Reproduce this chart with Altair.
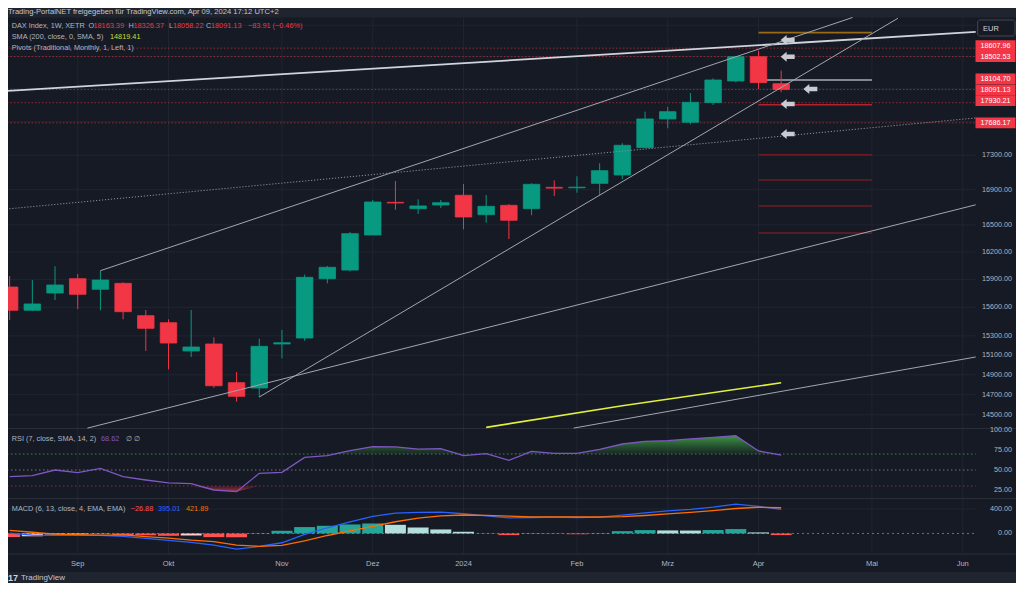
import altair as alt
import pandas as pd

# ------------------------------------------------------------------ data
weeks = pd.date_range("2023-08-14", periods=35, freq="7D")
opens = [15817, 15569, 15753, 15907, 15793, 15857, 15512, 15438, 15144, 15216,
         14821, 14767, 15216, 15278, 15907, 16001, 16387, 16755, 16683, 16725,
         16836, 16615, 16721, 16683, 16927, 16922, 16973, 17070, 17390, 17733,
         17693, 17932, 18197, 18500, 18163.39]
highs = [15936, 15893, 16042, 15958, 15994, 15868, 15572, 15474, 15572, 15285,
         14929, 15271, 15362, 15951, 16045, 16420, 16782, 17000, 16790, 16782,
         16966, 16839, 16735, 16973, 17008, 17055, 17206, 17442, 17821, 17881,
         18049, 18230, 18510, 18576, 18326.37]
lows = [15467, 15561, 15678, 15582, 15569, 15474, 15144, 14956, 15082, 14770,
        14630, 14677, 15069, 15250, 15857, 15985, 16387, 16671, 16623, 16691,
        16451, 16525, 16342, 16608, 16828, 16865, 16839, 17020, 17390, 17621,
        17669, 17902, 18180, 18098, 18058.22]
closes = [15569, 15636, 15839, 15739, 15893, 15554, 15379, 15226, 15185, 14790,
          14684, 15192, 15229, 15922, 16031, 16402, 16759, 16748, 16714, 16751,
          16589, 16710, 16552, 16962, 16918, 16929, 17120, 17418, 17733, 17821,
          17935, 18209, 18500, 18176, 18091.13]

rsi = [41.6, 42.9, 50.0, 46.7, 52.0, 41.6, 37.5, 34.0, 32.9, 25.0,
       22.9, 45.8, 47.0, 65.8, 67.9, 74.2, 79.2, 78.8, 76.2, 76.7,
       67.9, 70.4, 62.0, 73.3, 70.8, 70.8, 75.8, 82.5, 85.8, 86.7,
       88.8, 90.8, 92.9, 73.8, 68.62]
macd = [6, -27, -32, -32, -32, -49, -81, -114, -147, -191,
        -256, -213, -152, -16, 93, 192, 279, 334, 345, 350,
        323, 290, 257, 262, 268, 262, 268, 301, 339, 372,
        394, 432, 481, 443, 395.01]
signal = [50, 20, -12, -20, -27, -24, -50, -76, -110, -135,
          -190, -210, -196, -121, -33, 44, 115, 192, 250, 290,
          303, 296, 285, 270, 272, 270, 270, 275, 295, 322,
          346, 376, 409, 430, 421.89]
hist = [-59, -44, -16, -11, -5, -27, -30, -38, -33, -60,
        -62, -3, 44, 105, 126, 148, 164, 142, 98, 66,
        28, -4, -27, -3, -5, -12, -3, 38, 55, 50,
        48, 56, 72, 17, -26.88]

month_dates = ["2023-09-04", "2023-10-02", "2023-11-06", "2023-12-04", "2024-01-01",
               "2024-02-05", "2024-03-04", "2024-04-01", "2024-05-06", "2024-06-03"]
month_labels = ["Sep", "Okt", "Nov", "Dez", "2024", "Feb", "Mrz", "Apr", "Mai", "Jun"]

price_ticks = [14500, 14700, 14900, 15100, 15300, 15600, 15900, 16200, 16500, 16900, 17300]
grid_prices = price_ticks + [17700, 18100, 18500, 18900]
price_lines = [18607.96, 18502.53, 18091.13, 17930.21, 17686.17]
label_prices = [18607.96, 18502.53, 18104.70, 18091.13, 17930.21, 17686.17]

pivot_names = ["R1", "P", "S1", "S2", "S3", "S4", "S5"]
pivot_levels = [18805, 18209, 17906, 17307, 17012, 16714, 16409]
pivot_start, pivot_end = "2024-04-01", "2024-05-06"

trend_names = ["L1", "L2", "L3", "L4", "L5", "L6"]
trend_start_dates = ["2023-08-13", "2023-09-11", "2023-10-30", "2023-09-07", "2023-08-13", "2024-02-04"]
trend_start_prices = [18073, 15994, 14677, 14370, 16679, 14370]
trend_end_dates = ["2024-06-07", "2024-04-30", "2024-05-14", "2024-06-07", "2024-06-07", "2024-06-07"]
trend_end_prices = [18814, 19000, 18990, 16727, 17745, 15082]

sma_dates = ["2024-01-08", "2024-02-19", "2024-04-08"]
sma_values = [14377, 14590, 14819.41]

arrow_dates = ["2024-04-10", "2024-04-10", "2024-04-17", "2024-04-10", "2024-04-10"]
arrow_prices = [18712, 18500, 18097, 17914, 17552]

rsi_bands = [70, 50, 30]
rsi_ticks = [100, 75, 50, 25]
macd_ticks = [400, 0]

# ------------------------------------------------------------------ style
FONT = "Liberation Sans"
FRAME = "#20242f"
BG = "#161a25"
GRID = "#212532"
SEP = "#2a2e39"
TXT = "#b2b5be"
UP = "#089981"
DN = "#f23645"
LINE_GRAY = "#a3a6af"

X_SCALE = alt.Scale(domain=[alt.DateTime(year=2023, month=8, date=13),
                            alt.DateTime(year=2024, month=6, date=7)],
                    range=[-1.6, 967.7], padding=0, nice=False)


def xd(field="date"):
    return alt.X(f"{field}:T", scale=X_SCALE, axis=None)


def ym(field):
    return alt.Y(f"{field}:Q", axis=None,
                 scale=alt.Scale(type="log", domain=[14366, 19000], range=[420.5, 9.5],
                                 nice=False, zero=False, padding=0))


def yr(field):
    return alt.Y(f"{field}:Q", axis=None,
                 scale=alt.Scale(domain=[14, 102], range=[490.8, 420.4], nice=False, zero=False,
                                 padding=0))


def ymacd(field):
    return alt.Y(f"{field}:Q", axis=None,
                 scale=alt.Scale(domain=[-320, 570], range=[545.0, 490.7], nice=False, zero=False,
                                 padding=0))


def txt(s, x, y, color=TXT, size=7.3, align="left", weight="normal"):
    return alt.Chart(pd.DataFrame({"t": [s]})).mark_text(
        align=align, baseline="middle", fontSize=size, font=FONT, color=color, fontWeight=weight
    ).encode(x=alt.value(x), y=alt.value(y), text="t:N")


layers = []

# inner background
layers.append(alt.Chart(pd.DataFrame({"a": [0]})).mark_rect(color=BG).encode(
    x=alt.value(-1), x2=alt.value(1009), y=alt.value(9.5), y2=alt.value(564)))

# vertical grid lines (month starts)
df_months = pd.DataFrame({"date": pd.to_datetime(month_dates), "label": month_labels})
layers.append(alt.Chart(df_months).mark_rule(color=GRID, strokeWidth=1).encode(
    x=xd(), y=alt.value(9.5), y2=alt.value(546)))

# horizontal grid lines main pane
layers.append(alt.Chart(pd.DataFrame({"p": grid_prices})).mark_rule(color=GRID, strokeWidth=1).encode(
    y=ym("p"), x=alt.value(-1), x2=alt.value(967.7)))

# pane separators
for yy in (420.5, 490.5, 546):
    layers.append(alt.Chart(pd.DataFrame({"a": [0]})).mark_rule(color=SEP, strokeWidth=1).encode(
        x=alt.value(-1), x2=alt.value(1009), y=alt.value(yy)))

# pivot lines
df_piv = pd.DataFrame({"name": pivot_names, "p": pivot_levels,
                       "start": pd.to_datetime([pivot_start] * 7),
                       "end": pd.to_datetime([pivot_end] * 7)})
layers.append(alt.Chart(df_piv).mark_rule(strokeWidth=1.6).encode(
    x=xd("start"), x2=alt.X2("end:T"), y=ym("p"),
    color=alt.Color("name:N", legend=None,
                    scale=alt.Scale(domain=pivot_names,
                                    range=["#9a6a14", "#a9acb4", "#b0232e", "#6e1c24",
                                           "#6e1c24", "#6e1c24", "#6e1c24"]))))

# red dotted price lines
layers.append(alt.Chart(pd.DataFrame({"p": price_lines})).mark_rule(
    color="#8f2a34", strokeWidth=1, strokeDash=[1.5, 2]).encode(
    y=ym("p"), x=alt.value(-1), x2=alt.value(967.7)))

# SMA (yellow)
df_sma = pd.DataFrame({"date": pd.to_datetime(sma_dates), "v": sma_values})
layers.append(alt.Chart(df_sma).mark_line(color="#e2f03c", strokeWidth=1.6).encode(
    x=xd(), y=ym("v")))

# candles
df_c = pd.DataFrame({"date": weeks, "open": opens, "high": highs, "low": lows, "close": closes})
ccol = alt.condition("datum.close >= datum.open", alt.value(UP), alt.value(DN))
layers.append(alt.Chart(df_c).mark_rule(strokeWidth=1).encode(
    x=xd(), y=ym("low"), y2=alt.Y2("high:Q"), color=ccol))
layers.append(alt.Chart(df_c).mark_bar(size=16.5, strokeWidth=0.8).encode(
    x=xd(), y=ym("open"), y2=alt.Y2("close:Q"), color=ccol, stroke=ccol))

# trend lines
trend_styles = {
    "L1": dict(color="#d1d4dc", strokeWidth=1.8),
    "L2": dict(color=LINE_GRAY, strokeWidth=1),
    "L3": dict(color=LINE_GRAY, strokeWidth=1),
    "L4": dict(color=LINE_GRAY, strokeWidth=1),
    "L5": dict(color="#8d909a", strokeWidth=1, strokeDash=[1.2, 1.8]),
    "L6": dict(color=LINE_GRAY, strokeWidth=1),
}
for i, name in enumerate(trend_names):
    d = pd.DataFrame({"date": pd.to_datetime([trend_start_dates[i], trend_end_dates[i]]),
                      "p": [trend_start_prices[i], trend_end_prices[i]]})
    layers.append(alt.Chart(d).mark_line(**trend_styles[name]).encode(x=xd(), y=ym("p")))

# arrows
ARROW = "M-1,0L-0.15,-0.72L-0.15,-0.32L1,-0.32L1,0.32L-0.15,0.32L-0.15,0.72Z"
df_arrow = pd.DataFrame({"date": pd.to_datetime(arrow_dates), "p": arrow_prices})
layers.append(alt.Chart(df_arrow).mark_point(shape=ARROW, size=196, filled=True,
                                              color="#d1d4dc", opacity=0.95, strokeWidth=0).encode(
    x=xd(), y=ym("p")))

# price axis tick labels
layers.append(alt.Chart(pd.DataFrame({"p": price_ticks})).mark_text(
    align="right", baseline="middle", fontSize=7.2, font=FONT, color=TXT).encode(
    x=alt.value(1004), y=ym("p"), text=alt.Text("p:Q", format=".2f")))

# red price labels
BOX = "M-1,-0.27L1,-0.27L1,0.27L-1,0.27Z"
label_offsets = [-2.4, 0, -9.5, 0.4, -2, 0]
for p, off in zip(label_prices, label_offsets):
    d = pd.DataFrame({"p": [p]})
    layers.append(alt.Chart(d).mark_point(shape=BOX, size=1600, filled=True, color=DN,
                                          opacity=1, strokeWidth=0, yOffset=off).encode(
        x=alt.value(987.5), y=ym("p")))
    layers.append(alt.Chart(d).mark_text(align="center", baseline="middle", fontSize=7.2,
                                         font=FONT, color="#ffffff", dy=off).encode(
        x=alt.value(987.5), y=ym("p"), text=alt.Text("p:Q", format=".2f")))

# EUR box
layers.append(alt.Chart(pd.DataFrame({"a": [0]})).mark_rect(
    color=BG, stroke="#434651", strokeWidth=1, cornerRadius=2).encode(
    x=alt.value(969.7), x2=alt.value(1007), y=alt.value(12), y2=alt.value(28)))
layers.append(txt("EUR", 975, 20.5, color="#d1d4dc", size=7.5))

# ------------------------------------------------------------------ RSI pane
df_r = pd.DataFrame({"date": weeks, "rsi": rsi})
for b, col in zip(rsi_bands, ["#3a8a3f", "#6f727c", "#8f2a34"]):
    layers.append(alt.Chart(pd.DataFrame({"b": [b]})).mark_rule(
        color=col, strokeWidth=1, strokeDash=[1.5, 2.5]).encode(
        y=yr("b"), x=alt.value(-1), x2=alt.value(967.7)))

green_grad = alt.Gradient(gradient="linear",
                          stops=[alt.GradientStop(color="rgba(46,125,50,0.15)", offset=0),
                                 alt.GradientStop(color="rgba(67,160,71,0.95)", offset=1)],
                          x1=1, x2=1, y1=1, y2=0)
red_grad = alt.Gradient(gradient="linear",
                        stops=[alt.GradientStop(color="rgba(242,54,69,0.1)", offset=0),
                               alt.GradientStop(color="rgba(242,54,69,0.7)", offset=1)],
                        x1=1, x2=1, y1=0, y2=1)
layers.append(alt.Chart(df_r).transform_calculate(
    hi="max(datum.rsi, 70)", b70="70").mark_area(color=green_grad).encode(
    x=xd(), y=yr("hi"), y2=alt.Y2("b70:Q")))
layers.append(alt.Chart(df_r).transform_calculate(
    lo="min(datum.rsi, 30)", b30="30").mark_area(color=red_grad).encode(
    x=xd(), y=yr("lo"), y2=alt.Y2("b30:Q")))
layers.append(alt.Chart(df_r).mark_line(color="#7e57c2", strokeWidth=1.3).encode(
    x=xd(), y=yr("rsi")))
layers.append(alt.Chart(pd.DataFrame({"v": rsi_ticks})).mark_text(
    align="right", baseline="middle", fontSize=7.2, font=FONT, color=TXT).encode(
    x=alt.value(1004), y=yr("v"), text=alt.Text("v:Q", format=".2f")))

# ------------------------------------------------------------------ MACD pane
kinds = []
prev = None
for h in hist:
    rising = prev is not None and h > prev
    if h >= 0:
        kinds.append("pos_up" if rising else "pos_down")
    else:
        kinds.append("neg_up" if rising else "neg_down")
    prev = h
df_m = pd.DataFrame({"date": weeks, "macd": macd, "signal": signal, "hist": hist,
                     "kind": kinds, "zero": 0})
layers.append(alt.Chart(pd.DataFrame({"v": [400]})).mark_rule(color=GRID, strokeWidth=1).encode(
    y=ymacd("v"), x=alt.value(-1), x2=alt.value(967.7)))
layers.append(alt.Chart(pd.DataFrame({"v": [0]})).mark_rule(
    color="#6f727c", strokeWidth=1, strokeDash=[2, 3]).encode(
    y=ymacd("v"), x=alt.value(-1), x2=alt.value(967.7)))
layers.append(alt.Chart(df_m).mark_bar(size=21).encode(
    x=xd(), y=ymacd("hist"), y2=alt.Y2("zero:Q"),
    color=alt.Color("kind:N", legend=None,
                    scale=alt.Scale(domain=["pos_up", "pos_down", "neg_up", "neg_down"],
                                    range=["#26a69a", "#b2dfdb", "#ffcdd2", "#ff5252"]))))
layers.append(alt.Chart(df_m).mark_line(color="#2962ff", strokeWidth=1.3).encode(
    x=xd(), y=ymacd("macd")))
layers.append(alt.Chart(df_m).mark_line(color="#ff6d00", strokeWidth=1.3).encode(
    x=xd(), y=ymacd("signal")))
layers.append(alt.Chart(pd.DataFrame({"v": macd_ticks})).mark_text(
    align="right", baseline="middle", fontSize=7.2, font=FONT, color=TXT).encode(
    x=alt.value(1004), y=ymacd("v"), text=alt.Text("v:Q", format=".2f")))

# ------------------------------------------------------------------ time axis labels
layers.append(alt.Chart(df_months).mark_text(
    align="center", baseline="middle", fontSize=7.5, font=FONT, color=TXT).encode(
    x=xd(), y=alt.value(555.5), text="label:N"))

# ------------------------------------------------------------------ texts
layers += [
    txt("Trading-PortalNET freigegeben für TradingView.com, Apr 09, 2024 17:12 UTC+2", 0, 3.5,
        color="#c5c8cf", size=7.6),
    txt("DAX Index, 1W, XETR", 3.7, 18),
    txt("O", 80.5, 18), txt("18163.39", 85.5, 18, color=DN),
    txt("H", 120.5, 18), txt("18326.37", 125.5, 18, color=DN),
    txt("L", 161, 18), txt("18058.22", 165, 18, color=DN),
    txt("C", 198, 18), txt("18091.13", 203, 18, color=DN),
    txt("−83.91 (−0.46%)", 240, 18, color=DN),
    txt("SMA (200, close, 0, SMA, 5)", 3.7, 28.7),
    txt("14819.41", 102, 28.7, color="#cddc39"),
    txt("Pivots (Traditional, Monthly, 1, Left, 1)", 3.7, 40.3),
    txt("RSI (7, close, SMA, 14, 2)", 3.8, 431),
    txt("68.62", 93, 431, color="#7e57c2"),
    txt("∅  ∅", 118, 431),
    txt("MACD (6, 13, close, 4, EMA, EMA)", 3.8, 501),
    txt("−26.88", 122.7, 501, color="#ff5252"),
    txt("395.01", 150, 501, color="#2962ff"),
    txt("421.89", 178, 501, color="#ff6d00"),
    txt("17", 0, 570, color="#d1d4dc", size=9, weight="bold"),
    txt("TradingView", 13, 570, color="#c5c8cf", size=8),
]

chart = alt.layer(*layers).resolve_scale(y="independent", color="independent").properties(
    width=1008, height=575, padding=0,
    autosize=alt.AutoSizeParams(type="none"),
    background=FRAME,
).configure_view(stroke=None)

chart.save("out.html", embed_options={"renderer": "svg", "actions": False})
